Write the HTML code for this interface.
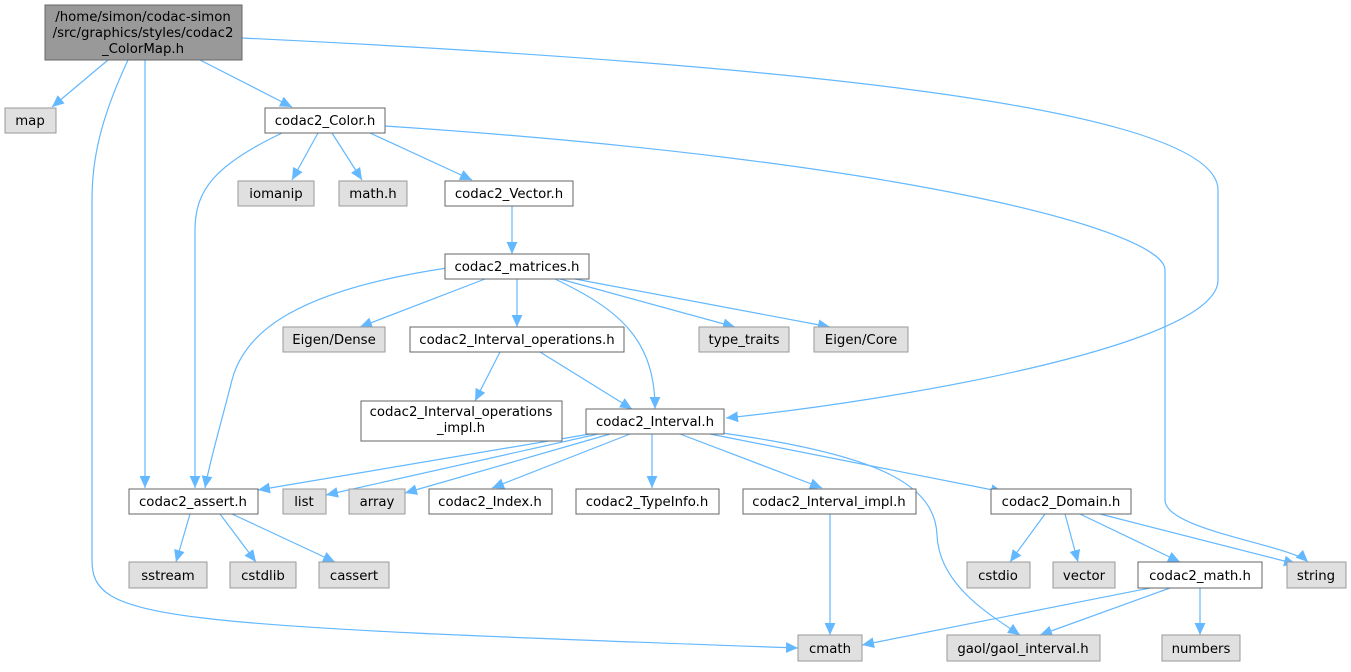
<!DOCTYPE html>
<html><head><meta charset="utf-8"><style>
body{margin:0;background:#fff;width:1351px;height:667px;overflow:hidden}
text{font-family:"DejaVu Sans","Liberation Sans",sans-serif;font-size:13.3px;fill:#000}
.e{fill:none;stroke:#63b8ff;stroke-width:1.2}
.w{fill:#fff;stroke:#666}
.g{fill:#e0e0e0;stroke:#999}
</style></head><body>
<svg width="1351" height="667" viewBox="0 0 1351 667">
<defs><marker id="a" viewBox="0 0 10 10" refX="10" refY="5" markerWidth="12" markerHeight="12" markerUnits="userSpaceOnUse" orient="auto"><path d="M0,0.5L10,5L0,9.5z" fill="#63b8ff"/></marker></defs>
<g marker-end="url(#a)">
<path class="e" d="M108,60L52,107"/>
<path class="e" d="M200,60L292,107"/>
<path class="e" d="M145,60L145,488"/>
<path class="e" d="M128,60C100,120 92,160 92,200L92,560C92,620 150,625 798,648"/>
<path class="e" d="M242,38C700,60 1218,100 1218,190L1218,280C1218,345 900,400 726,418"/>
<path class="e" d="M282,133C215,165 195,190 195,230L195,488"/>
<path class="e" d="M318,133L292,180"/>
<path class="e" d="M332,133L362,180"/>
<path class="e" d="M370,133L472,180"/>
<path class="e" d="M385,126C900,160 1165,230 1165,270L1165,500C1165,530 1290,545 1308,562"/>
<path class="e" d="M512,206L512,254"/>
<path class="e" d="M447,268C300,290 245,330 232,380C222,420 210,460 205,488"/>
<path class="e" d="M485,279L360,327"/>
<path class="e" d="M517,279L517,327"/>
<path class="e" d="M555,279C620,310 655,340 655,409"/>
<path class="e" d="M560,279L735,327"/>
<path class="e" d="M575,279L830,327"/>
<path class="e" d="M500,352L475,401"/>
<path class="e" d="M540,352L632,409"/>
<path class="e" d="M590,434L258,490"/>
<path class="e" d="M598,434L326,495"/>
<path class="e" d="M610,434L405,493"/>
<path class="e" d="M630,434L492,488"/>
<path class="e" d="M652,434L652,488"/>
<path class="e" d="M680,434L822,488"/>
<path class="e" d="M710,434L1003,492"/>
<path class="e" d="M722,433C880,455 935,485 937,535C939,585 990,615 1020,635"/>
<path class="e" d="M830,514L830,635"/>
<path class="e" d="M190,514L176,562"/>
<path class="e" d="M220,514L256,562"/>
<path class="e" d="M232,514L335,562"/>
<path class="e" d="M1045,514L1010,562"/>
<path class="e" d="M1065,514L1078,562"/>
<path class="e" d="M1080,514L1180,562"/>
<path class="e" d="M1100,514L1296,564"/>
<path class="e" d="M1150,588L862,645"/>
<path class="e" d="M1170,588L1040,635"/>
<path class="e" d="M1200,588L1200,635"/>
</g>
<rect x="45" y="5" width="197" height="55" fill="#999" stroke="#666"/>
<text x="143" y="21" text-anchor="middle">/home/simon/codac-simon</text>
<text x="143" y="37" text-anchor="middle">/src/graphics/styles/codac2</text>
<text x="143" y="53" text-anchor="middle">_ColorMap.h</text>
<g text-anchor="middle">
<rect class="g" x="5" y="108" width="51" height="25"/><text x="30" y="125">map</text>
<rect class="w" x="265" y="108" width="120" height="25"/><text x="325" y="125">codac2_Color.h</text>
<rect class="g" x="238" y="181" width="76" height="25"/><text x="276" y="198">iomanip</text>
<rect class="g" x="339" y="181" width="68" height="25"/><text x="373" y="198">math.h</text>
<rect class="w" x="445" y="181" width="128" height="25"/><text x="509" y="198">codac2_Vector.h</text>
<rect class="w" x="445" y="254" width="144" height="25"/><text x="517" y="271">codac2_matrices.h</text>
<rect class="g" x="283" y="327" width="102" height="25"/><text x="334" y="344">Eigen/Dense</text>
<rect class="w" x="410" y="327" width="214" height="25"/><text x="517" y="344">codac2_Interval_operations.h</text>
<rect class="g" x="699" y="327" width="90" height="25"/><text x="744" y="344">type_traits</text>
<rect class="g" x="814" y="327" width="94" height="25"/><text x="861" y="344">Eigen/Core</text>
<rect class="w" x="361" y="401" width="201" height="40"/><text x="461" y="416">codac2_Interval_operations</text><text x="461" y="432">_impl.h</text>
<rect class="w" x="586" y="409" width="138" height="25"/><text x="655" y="426">codac2_Interval.h</text>
<rect class="w" x="129" y="489" width="129" height="25"/><text x="193" y="506">codac2_assert.h</text>
<rect class="g" x="283" y="489" width="43" height="25"/><text x="304" y="506">list</text>
<rect class="g" x="349" y="489" width="56" height="25"/><text x="377" y="506">array</text>
<rect class="w" x="429" y="489" width="123" height="25"/><text x="490" y="506">codac2_Index.h</text>
<rect class="w" x="576" y="489" width="143" height="25"/><text x="647" y="506">codac2_TypeInfo.h</text>
<rect class="w" x="743" y="489" width="173" height="25"/><text x="829" y="506">codac2_Interval_impl.h</text>
<rect class="w" x="991" y="489" width="140" height="25"/><text x="1061" y="506">codac2_Domain.h</text>
<rect class="g" x="129" y="562" width="78" height="26"/><text x="168" y="580">sstream</text>
<rect class="g" x="230" y="562" width="66" height="26"/><text x="263" y="580">cstdlib</text>
<rect class="g" x="319" y="562" width="70" height="26"/><text x="354" y="580">cassert</text>
<rect class="g" x="967" y="562" width="63" height="26"/><text x="998" y="580">cstdio</text>
<rect class="g" x="1053" y="562" width="62" height="26"/><text x="1084" y="580">vector</text>
<rect class="w" x="1138" y="562" width="124" height="26"/><text x="1200" y="580">codac2_math.h</text>
<rect class="g" x="1287" y="562" width="59" height="26"/><text x="1316" y="580">string</text>
<rect class="g" x="798" y="635" width="64" height="26"/><text x="830" y="653">cmath</text>
<rect class="g" x="947" y="635" width="153" height="26"/><text x="1023" y="653">gaol/gaol_interval.h</text>
<rect class="g" x="1162" y="635" width="78" height="26"/><text x="1201" y="653">numbers</text>
</g>
</svg>
</body></html>
